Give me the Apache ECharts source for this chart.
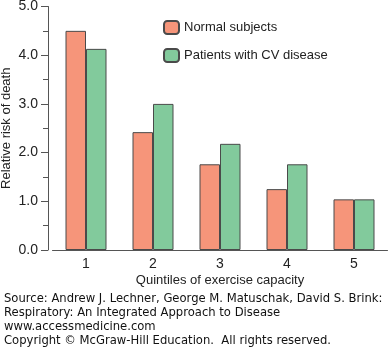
<!DOCTYPE html>
<html>
<head>
<meta charset="utf-8">
<script src="https://cdn.jsdelivr.net/npm/echarts@6/dist/echarts.min.js"></script>
<style>
  html, body { margin: 0; padding: 0; background: #fff; }
  #chart { width: 392px; height: 350px; }
</style>
</head>
<body>
<div id="chart"></div>
<script>
// quintiles 1..5
var quintiles = ["1", "2", "3", "4", "5"];
var normalSubjects = [4.5, 2.42, 1.76, 1.25, 1.04];
var cvPatients = [4.13, 3.0, 2.18, 1.76, 1.04];
var seriesNames = ["Normal subjects", "Patients with CV disease"];
var sourceLines = [
  "Source: Andrew J. Lechner, George M. Matuschak, David S. Brink:",
  "Respiratory: An Integrated Approach to Disease",
  "www.accessmedicine.com",
  "Copyright \u00a9 McGraw-Hill Education.  All rights reserved."
];

var chart = echarts.init(document.getElementById("chart"));
var font = "'Liberation Sans', Arial, sans-serif";

var option = {
  animation: false,
  textStyle: { fontFamily: font },
  grid: { left: 52.5, right: 4.5, top: 6.5, bottom: 100, containLabel: false, outerBoundsMode: "none" },
  legend: {
    orient: "vertical",
    left: 158,
    top: 15,
    itemWidth: 15,
    itemHeight: 13,
    itemGap: 13,
    textStyle: { fontSize: 13, color: "#222", fontFamily: font },
    data: seriesNames
  },
  xAxis: {
    type: "category",
    data: quintiles,
    name: "Quintiles of exercise capacity",
    nameLocation: "middle",
    nameGap: 24,
    nameMoveOverlap: false,
    nameTextStyle: { fontSize: 13, color: "#222", fontFamily: font },
    axisLine: { lineStyle: { color: "#555", width: 1 } },
    axisTick: { show: false },
    axisLabel: { fontSize: 14, color: "#222", margin: 7, fontFamily: font }
  },
  yAxis: {
    type: "value",
    min: 0,
    max: 5,
    interval: 1,
    offset: 4.5,
    name: "Relative risk of death",
    nameLocation: "middle",
    nameGap: 35,
    nameMoveOverlap: false,
    nameTextStyle: { fontSize: 13, color: "#222", fontFamily: font },
    axisLine: { show: true, lineStyle: { color: "#555", width: 1 } },
    axisTick: { show: true, length: 7, lineStyle: { color: "#555" } },
    minorTick: { show: true, splitNumber: 2, length: 5, lineStyle: { color: "#555" } },
    splitLine: { show: false },
    axisLabel: {
      fontSize: 14,
      color: "#222",
      margin: 10,
      fontFamily: font,
      formatter: function (v) { return v.toFixed(1); }
    }
  },
  series: [
    {
      name: seriesNames[0],
      type: "bar",
      data: normalSubjects,
      barWidth: 20.5,
      barGap: "0%",
      itemStyle: { color: "#F6957A", borderColor: "#4a4a4a", borderWidth: 1 }
    },
    {
      name: seriesNames[1],
      type: "bar",
      data: cvPatients,
      barWidth: 20.5,
      barGap: "0%",
      itemStyle: { color: "#82CA9C", borderColor: "#4a4a4a", borderWidth: 1 }
    }
  ],
  graphic: sourceLines.map(function (line, i) {
    return {
      type: "text",
      left: 4,
      top: 293 + i * 14,
      style: {
        text: line,
        fill: "#111",
        font: "11.6px 'DejaVu Sans', Verdana, sans-serif"
      }
    };
  })
};

chart.setOption(option);
</script>
</body>
</html>
